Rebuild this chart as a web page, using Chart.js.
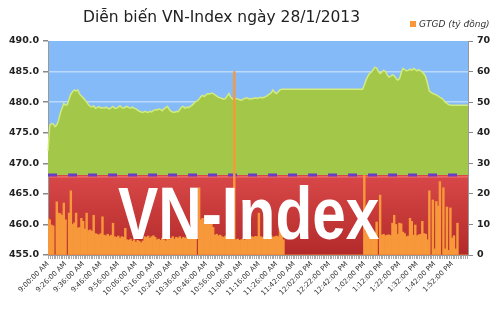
<!DOCTYPE html>
<html>
<head>
<meta charset="utf-8">
<script src="https://cdn.jsdelivr.net/npm/chart.js@4.4.0/dist/chart.umd.min.js"></script>
<style>
  body { margin: 0; background: #fff; }
  #wrap { position: relative; width: 500px; height: 313px; overflow: hidden; }
  #title { position: absolute; left: 83px; top: 8px; font: 15.5px "DejaVu Sans", sans-serif; color: #222; white-space: nowrap; }
  #legend { position: absolute; left: 410px; top: 19px; font: italic 9px "DejaVu Sans", sans-serif; color: #333; white-space: nowrap; }
  #legend span { display: inline-block; width: 6px; height: 6px; background: #f7993b; margin-right: 3px; }
  #mark { position: absolute; left: 118px; top: 177px; font: bold 74px "Liberation Sans", sans-serif; line-height: 1; color: #fff; white-space: nowrap; pointer-events: none; transform: scaleX(0.815); transform-origin: 0 0; }
</style>
</head>
<body>
<div id="wrap">
  <canvas id="chart" width="500" height="313"></canvas>
  <div id="title">Diễn biến VN-Index ngày 28/1/2013</div>
  <div id="legend"><span></span>GTGD (tỷ đồng)</div>
  <div id="mark">VN-Index</div>
</div>
<script>
// tick labels, one every 10 points
const tickLabels = ["9:00:00 AM", "9:26:00 AM", "9:36:00 AM", "9:46:00 AM", "9:56:00 AM",
  "10:06:00 AM", "10:16:00 AM", "10:26:00 AM", "10:36:00 AM", "10:46:00 AM", "10:56:00 AM",
  "11:06:00 AM", "11:16:00 AM", "11:26:00 AM", "11:42:00 AM", "12:02:00 PM", "12:22:00 PM",
  "12:42:00 PM", "1:02:00 PM", "1:12:00 PM", "1:22:00 PM", "1:32:00 PM", "1:42:00 PM", "1:52:00 PM"];

// reference level (previous close)
const refValue = 468.1;

// VN-Index
const vnIndex = [
  472.0, 476.2, 476.5, 476.4, 476.0, 476.3, 477.0, 478.2, 479.0, 479.8,
  479.5, 479.6, 480.5, 481.3, 481.7, 482.0, 481.8, 482.0, 481.3, 481.0,
  480.7, 480.4, 480.0, 479.6, 479.3, 479.2, 479.4, 479.0, 479.1, 479.3,
  479.0, 479.1, 479.0, 479.2, 479.0, 478.9, 479.1, 479.3, 479.0, 479.0,
  479.2, 479.4, 479.1, 479.0, 479.2, 479.3, 479.1, 479.0, 479.2, 479.0,
  478.9, 478.7, 478.5, 478.4, 478.3, 478.5, 478.4, 478.3, 478.5, 478.4,
  478.6, 478.8, 478.7, 478.9, 478.8, 478.6, 478.9, 479.1, 479.3, 478.8,
  478.5, 478.4, 478.3, 478.5, 478.4, 478.8, 479.2, 479.3, 479.0, 479.2,
  479.1, 479.3, 479.5, 479.8, 480.1, 480.2, 480.5, 480.9, 481.1, 480.9,
  481.2, 481.4, 481.3, 481.5, 481.4, 481.2, 481.0, 480.8, 480.7, 480.6,
  480.5, 480.6, 481.0, 481.4, 480.8, 480.5, 480.4, 480.6, 480.5, 480.4,
  480.3, 480.5, 480.6, 480.7, 480.6, 480.5, 480.6, 480.6, 480.7, 480.6,
  480.7, 480.8, 480.7, 480.8, 480.9, 481.1, 481.3, 481.5, 482.0, 481.6,
  481.4, 481.7, 482.0, 482.1, 482.1, 482.1, 482.1, 482.1, 482.1, 482.1,
  482.1, 482.1, 482.1, 482.1, 482.1, 482.1, 482.1, 482.1, 482.1, 482.1,
  482.1, 482.1, 482.1, 482.1, 482.1, 482.1, 482.1, 482.1, 482.1, 482.1,
  482.1, 482.1, 482.1, 482.1, 482.1, 482.1, 482.1, 482.1, 482.1, 482.1,
  482.1, 482.1, 482.1, 482.1, 482.1, 482.1, 482.1, 482.1, 482.1, 482.1,
  482.8, 483.6, 484.2, 484.7, 484.9, 485.3, 485.7, 485.6, 485.0, 484.7,
  484.9, 485.2, 485.0, 484.5, 484.1, 484.2, 484.5, 484.3, 483.9, 483.6,
  483.8, 484.8, 485.5, 485.3, 485.1, 485.2, 485.4, 485.2, 485.5, 485.3,
  485.1, 485.3, 485.1, 484.9, 484.6, 484.1, 483.0, 481.8, 481.6, 481.4,
  481.3, 481.2, 481.0, 480.8, 480.6, 480.4, 480.0, 479.8, 479.6, 479.5,
  479.5, 479.5, 479.5, 479.5, 479.5, 479.5, 479.5, 479.5, 479.5, 479.5
];

// GTGD (tỷ đồng)
const volume = [
  12, 11.5, 9.8, 9.5, 0, 17.4, 13.7, 13.5, 13, 17,
  11.5, 0, 13.7, 21, 10, 10.5, 13.7, 8.8, 9, 12,
  11, 8.5, 13.7, 8, 8.2, 7.8, 13, 7, 6.8, 6.5,
  7, 12.5, 6.5, 6.3, 6.8, 6.2, 6.5, 10.4, 6, 5.8,
  6.2, 5.5, 6, 5.8, 8.7, 5, 4.8, 5.2, 4.5, 5,
  4.2, 4.8, 4.5, 4, 4.6, 6, 5.8, 6.2, 5.5, 6,
  6.3, 5.8, 5, 5.2, 4.8, 5.5, 5, 4.6, 5.2, 5,
  5.5, 6, 5.2, 5.8, 5.5, 6, 5.3, 5.8, 5.5, 6,
  6.2, 5.8, 6, 6.3, 5.9, 0, 22, 11.5, 12, 10.8,
  11.5, 10.5, 10, 10.8, 9, 6.5, 6.8, 6.3, 6.5, 6,
  5.8, 6.2, 6, 5.7, 6, 5.8, 60, 5, 5.2, 4.8,
  5, 5.3, 4.9, 6, 5.8, 6.2, 6, 5.8, 6.1, 6,
  13.7, 6, 5.8, 6.2, 6.1, 5.9, 6, 6.3, 5.8, 6,
  6.2, 6, 11.5, 10, 5, 0, 0, 0, 0, 0,
  0, 0, 0, 0, 0, 0, 0, 0, 0, 0,
  0, 0, 0, 0, 0, 0, 0, 0, 0, 0,
  0, 0, 0, 0, 0, 0, 0, 0, 0, 0,
  0, 0, 0, 0, 0, 0, 0, 0, 0, 0,
  26, 7.5, 7.8, 7.3, 7.5, 7.6, 7.4, 10.8, 0, 19.6,
  6.5, 6.8, 6.3, 6.5, 6.6, 6.4, 10.4, 13, 10, 6.8,
  10.4, 10.2, 7.5, 7, 6, 6.2, 12, 11, 6.5, 9.8,
  6.3, 6.6, 6.8, 11, 7, 6.8, 5, 21, 0, 18,
  2, 17.5, 16, 24, 0, 22, 2, 15.7, 1.5, 15.4,
  5.5, 6.3, 2, 10.4, 0, 0, 0, 0, 0, 0
];

const labels = vnIndex.map((v, i) => (i % 10 === 0 ? tickLabels[i / 10] : ""));

// blue above the reference, red below
const bands = {
  id: "bands",
  beforeDraw(chart) {
    const { ctx, chartArea: a, scales } = chart;
    const ry = scales.y.getPixelForValue(refValue);
    ctx.save();
    ctx.fillStyle = "#84baf7";
    ctx.fillRect(a.left, a.top, a.right - a.left, ry - a.top);
    const g = ctx.createLinearGradient(0, ry, 0, a.bottom);
    g.addColorStop(0, "#d94848");
    g.addColorStop(1, "#b32a2a");
    ctx.fillStyle = g;
    ctx.fillRect(a.left, ry, a.right - a.left, a.bottom - ry);
    ctx.strokeStyle = "#f47a7a";
    ctx.lineWidth = 1;
    ctx.beginPath();
    ctx.moveTo(a.left, ry + 2);
    ctx.lineTo(a.right, ry + 2);
    ctx.stroke();
    ctx.restore();
  },
  afterDatasetDraw(chart, args) {
    if (args.index !== 1) return;
    const { ctx, chartArea: a, scales } = chart;
    const ry = scales.y.getPixelForValue(refValue);
    ctx.save();
    ctx.strokeStyle = "#6a3dc4";
    ctx.lineWidth = 3;
    ctx.setLineDash([9, 11]);
    ctx.beginPath();
    ctx.moveTo(a.left, ry);
    ctx.lineTo(a.right, ry);
    ctx.stroke();
    ctx.restore();
  }
};

const axisFont = { family: "DejaVu Sans", size: 9.5, weight: "bold" };

new Chart(document.getElementById("chart"), {
  data: {
    labels: labels,
    datasets: [
      {
        type: "bar",
        label: "GTGD (tỷ đồng)",
        data: volume,
        yAxisID: "y2",
        backgroundColor: "#f7993b",
        barPercentage: 1,
        categoryPercentage: 1,
        order: 0
      },
      {
        type: "line",
        label: "VN-Index",
        data: vnIndex,
        yAxisID: "y",
        borderColor: "#d3ea7c",
        borderWidth: 1.5,
        backgroundColor: "#a3c748",
        fill: { value: refValue },
        pointRadius: 0,
        tension: 0,
        order: 1
      }
    ]
  },
  options: {
    responsive: false,
    animation: false,
    layout: { padding: { top: 41, left: 0, right: 0, bottom: 0 } },
    plugins: {
      legend: { display: false },
      title: { display: false },
      tooltip: { enabled: false }
    },
    scales: {
      x: {
        type: "category",
        offset: false,
        grid: { drawOnChartArea: false, tickLength: 4, color: "#aaa" },
        border: { color: "#999" },
        ticks: {
          autoSkip: false,
          minRotation: 45,
          maxRotation: 45,
          padding: 1,
          color: "#333",
          font: { family: "DejaVu Sans", size: 7 },
          callback: (v, i) => labels[i]
        },
        afterFit: (s) => { s.height = 58; }
      },
      y: {
        position: "left",
        min: 455,
        max: 490,
        ticks: { stepSize: 5, color: "#222", font: axisFont, padding: 4, callback: (v) => v.toFixed(1) },
        grid: {
          color: (c) => (c.tick && c.tick.value > refValue && c.tick.value < 490 ? "rgba(255,255,255,0.45)" : "rgba(0,0,0,0)"),
          tickColor: "#888",
          tickLength: 5,
          lineWidth: 1.5
        },
        border: { color: "#999" },
        afterFit: (s) => { s.width = 48; }
      },
      y2: {
        position: "right",
        min: 0,
        max: 70,
        ticks: { stepSize: 10, color: "#222", font: axisFont, padding: 4 },
        grid: { drawOnChartArea: false, tickColor: "#888", tickLength: 5 },
        border: { color: "#999" },
        afterFit: (s) => { s.width = 32; }
      }
    }
  },
  plugins: [bands]
});
</script>
</body>
</html>
